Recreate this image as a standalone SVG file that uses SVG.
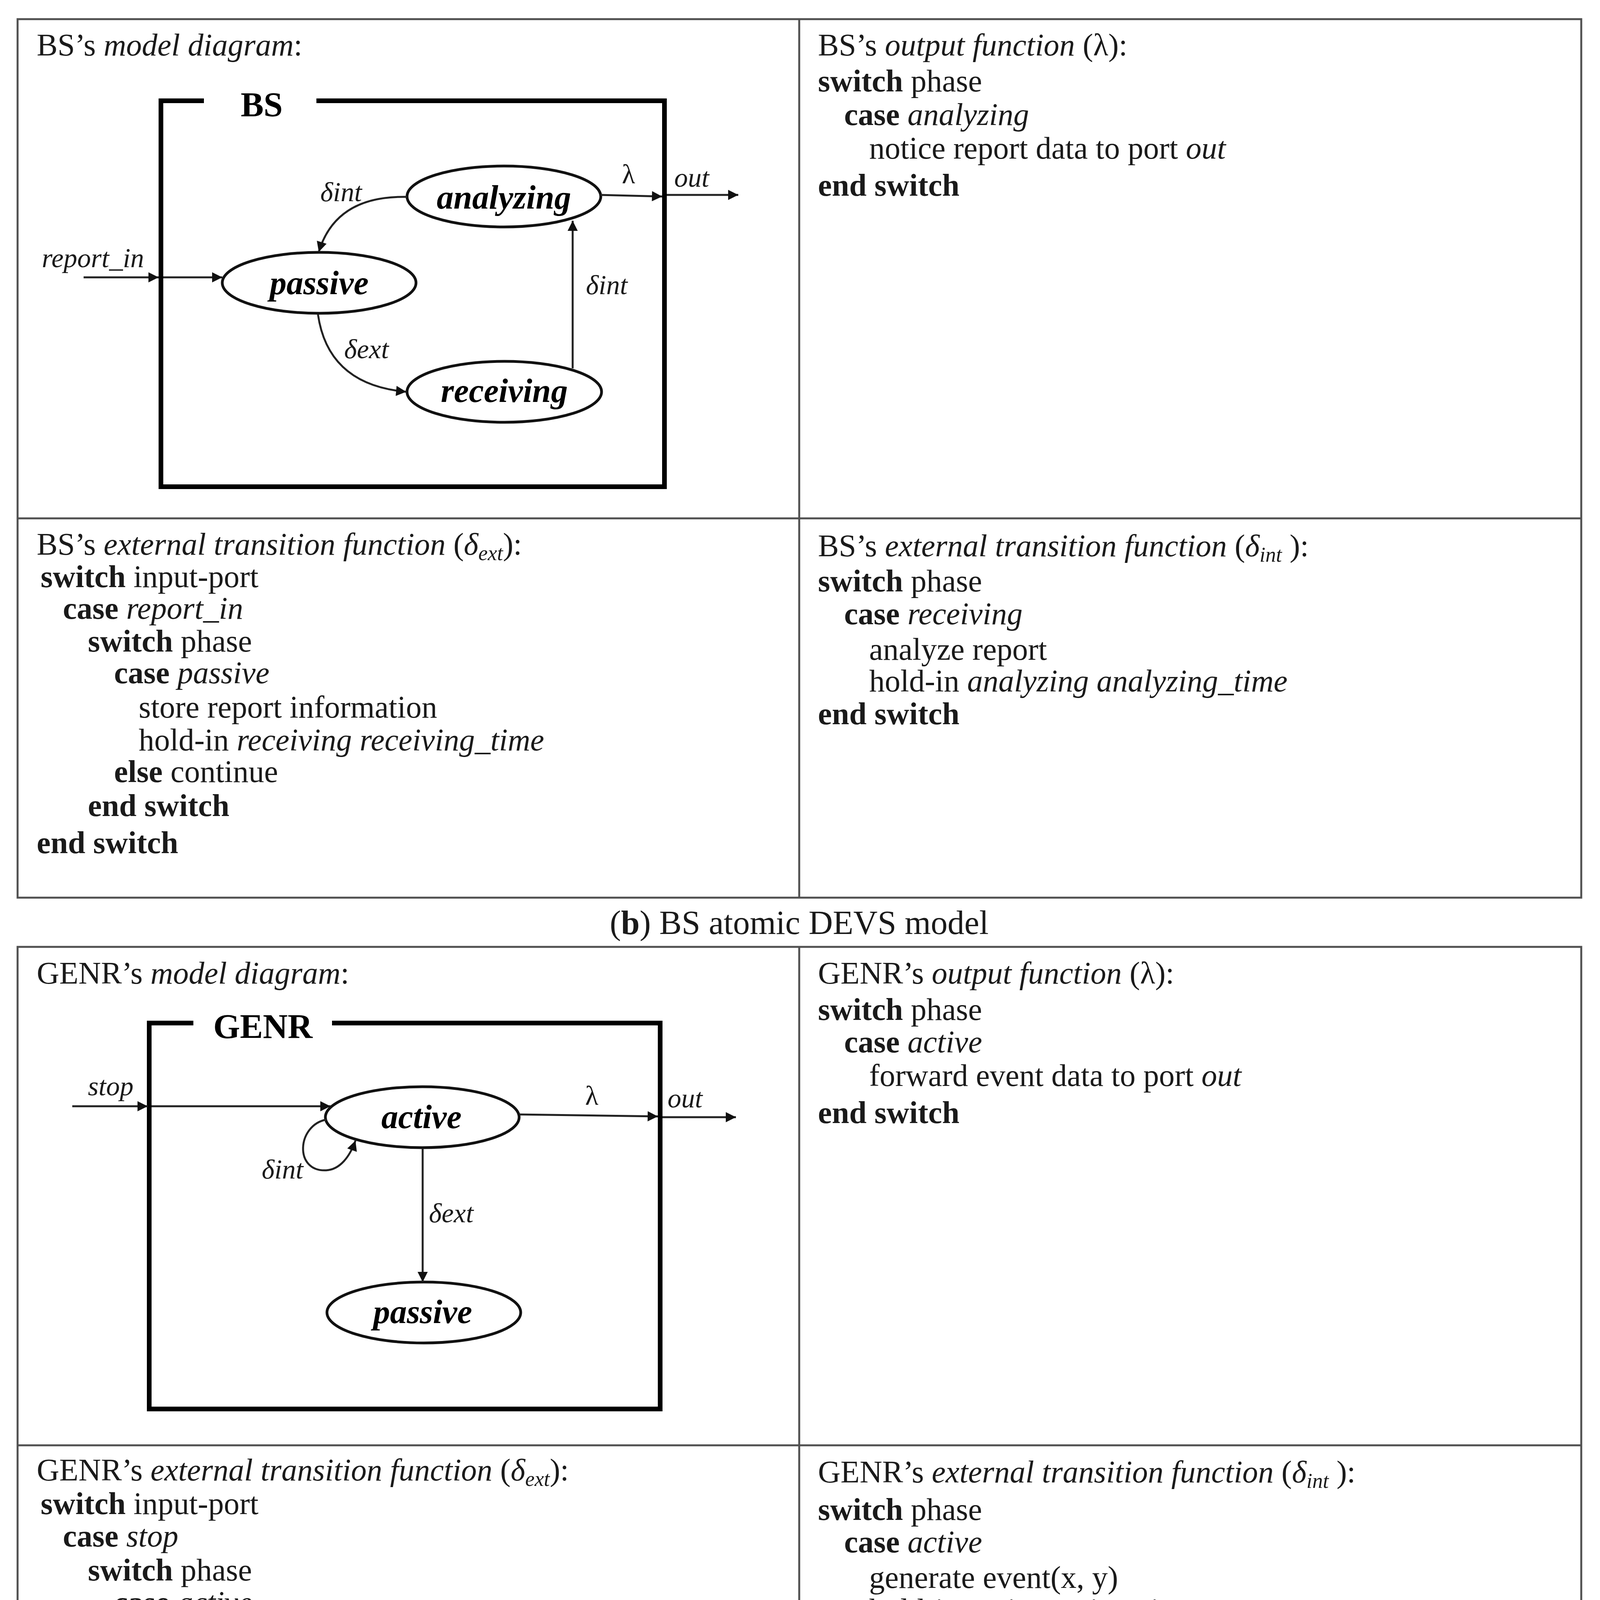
<svg xmlns="http://www.w3.org/2000/svg" width="4097" height="4833" viewBox="0 0 4097 4833">
<style>
.t{font-family:"Liberation Serif",serif;font-size:80px;fill:#1a1a1a}
.b{font-weight:bold}
.i{font-style:italic}
.sub{font-size:54px;font-style:italic}
.cap{font-family:"Liberation Serif",serif;font-size:86px;fill:#1a1a1a;text-anchor:middle}
.lbl{font-family:"Liberation Serif",serif;font-size:70px;font-style:italic;fill:#1a1a1a}
.lam{font-family:"Liberation Serif",serif;font-size:70px;fill:#1a1a1a}
.st{font-family:"Liberation Serif",serif;font-size:86px;font-weight:bold;font-style:italic;fill:#000;text-anchor:middle}
.mname{font-family:"Liberation Serif",serif;font-size:88px;font-weight:bold;fill:#000;text-anchor:middle}
.cell{fill:none;stroke:#505050;stroke-width:5}
.box{fill:none;stroke:#000;stroke-width:12;stroke-linejoin:miter}
.node{fill:#fff;stroke:#111;stroke-width:7}
.edge{fill:none;stroke:#222;stroke-width:5}
</style>
<defs>
<marker id="ah" viewBox="0 0 10 10" refX="10" refY="5" markerWidth="36" markerHeight="26" markerUnits="userSpaceOnUse" orient="auto">
<path d="M0,0 L10,5 L0,10 z" fill="#111"/>
</marker>
</defs>
<rect width="4097" height="4833" fill="#fff"/>

<!-- BS table -->
<g id="bs-table">
<rect class="cell" x="45" y="49" width="4003" height="2249"/>
<line class="cell" x1="45" y1="1327" x2="4048" y2="1327"/>
<line class="cell" x1="2046" y1="49" x2="2046" y2="2298"/>
</g>

<!-- BS model diagram cell -->
<g id="bs-diagram-title">
<text class="t" x="94" y="142">BS’s <tspan class="i">model diagram</tspan>:</text>
</g>
<g id="bs-box">
<path class="box" d="M522,258 L412,258 L412,1246 L1701,1246 L1701,258 L810,258"/>
<text class="mname" x="670" y="297">BS</text>
</g>
<g id="bs-analyzing">
<ellipse class="node" cx="1290" cy="503" rx="248" ry="78"/>
<text class="st" x="1290" y="534">analyzing</text>
</g>
<g id="bs-passive">
<ellipse class="node" cx="817" cy="724" rx="248" ry="78"/>
<text class="st" x="817" y="753">passive</text>
</g>
<g id="bs-receiving">
<ellipse class="node" cx="1291" cy="1003" rx="249" ry="78"/>
<text class="st" x="1291" y="1029">receiving</text>
</g>
<g id="bs-connectors">
<line class="edge" x1="214" y1="710" x2="406" y2="710" marker-end="url(#ah)"/>
<line class="edge" x1="418" y1="710" x2="569" y2="710" marker-end="url(#ah)"/>
<line class="edge" x1="1537" y1="499" x2="1695" y2="503" marker-end="url(#ah)"/>
<line class="edge" x1="1707" y1="499" x2="1890" y2="499" marker-end="url(#ah)"/>
<path class="edge" d="M1042,504 Q860,500 816,645" marker-end="url(#ah)"/>
<path class="edge" d="M814,805 Q840,985 1040,1003" marker-end="url(#ah)"/>
<line class="edge" x1="1466" y1="943" x2="1466" y2="565" marker-end="url(#ah)"/>
<text class="lbl" x="107" y="684">report_in</text>
<text class="lam" x="1592" y="469">λ</text>
<text class="lbl" x="1726" y="478">out</text>
<text class="lbl" x="820" y="515">δint</text>
<text class="lbl" x="881" y="917">δext</text>
<text class="lbl" x="1500" y="753">δint</text>
</g>

<!-- BS output function -->
<g id="bs-output">
<text class="t" x="2094" y="142">BS’s <tspan class="i">output function</tspan> (λ):</text>
<text class="t" x="2094" y="234"><tspan class="b">switch</tspan> phase</text>
<text class="t" x="2161" y="320"><tspan class="b">case</tspan> <tspan class="i">analyzing</tspan></text>
<text class="t" x="2225" y="406">notice report data to port <tspan class="i">out</tspan></text>
<text class="t b" x="2094" y="501">end switch</text>
</g>

<!-- BS external transition -->
<g id="bs-ext">
<text class="t" x="94" y="1420">BS’s <tspan class="i">external transition function</tspan> (<tspan class="i">δ</tspan><tspan class="sub" dy="14">ext</tspan><tspan dy="-14">):</tspan></text>
<text class="t" x="104" y="1503"><tspan class="b">switch</tspan> input-port</text>
<text class="t" x="161" y="1584"><tspan class="b">case</tspan> <tspan class="i">report_in</tspan></text>
<text class="t" x="225" y="1668"><tspan class="b">switch</tspan> phase</text>
<text class="t" x="292" y="1749"><tspan class="b">case</tspan> <tspan class="i">passive</tspan></text>
<text class="t" x="355" y="1837">store report information</text>
<text class="t" x="355" y="1921">hold-in <tspan class="i">receiving receiving_time</tspan></text>
<text class="t" x="292" y="2002"><tspan class="b">else</tspan> continue</text>
<text class="t b" x="225" y="2089">end switch</text>
<text class="t b" x="94" y="2184">end switch</text>
</g>

<!-- BS internal transition -->
<g id="bs-int">
<text class="t" x="2094" y="1424">BS’s <tspan class="i">external transition function</tspan> (<tspan class="i">δ</tspan><tspan class="sub" dy="14">int</tspan><tspan dy="-14"> ):</tspan></text>
<text class="t" x="2094" y="1514"><tspan class="b">switch</tspan> phase</text>
<text class="t" x="2161" y="1598"><tspan class="b">case</tspan> <tspan class="i">receiving</tspan></text>
<text class="t" x="2225" y="1689">analyze report</text>
<text class="t" x="2225" y="1770">hold-in <tspan class="i">analyzing analyzing_time</tspan></text>
<text class="t b" x="2094" y="1854">end switch</text>
</g>

<g id="caption-b">
<text class="cap" x="2046" y="2391">(<tspan font-weight="bold">b</tspan>) BS atomic DEVS model</text>
</g>

<!-- GENR table -->
<g id="genr-table">
<rect class="cell" x="45" y="2424" width="4003" height="2250"/>
<line class="cell" x1="45" y1="3700" x2="4048" y2="3700"/>
<line class="cell" x1="2046" y1="2424" x2="2046" y2="4674"/>
</g>

<g id="genr-diagram-title">
<text class="t" x="94" y="2518">GENR’s <tspan class="i">model diagram</tspan>:</text>
</g>
<g id="genr-box">
<path class="box" d="M495,2619 L382,2619 L382,3607 L1690,3607 L1690,2619 L850,2619"/>
<text class="mname" x="673" y="2657">GENR</text>
</g>
<g id="genr-active">
<ellipse class="node" cx="1081" cy="2860" rx="248" ry="78"/>
<text class="st" x="1079" y="2888">active</text>
</g>
<g id="genr-passive">
<ellipse class="node" cx="1085" cy="3360" rx="248" ry="78"/>
<text class="st" x="1082" y="3387">passive</text>
</g>
<g id="genr-connectors">
<line class="edge" x1="185" y1="2832" x2="378" y2="2832" marker-end="url(#ah)"/>
<line class="edge" x1="388" y1="2832" x2="846" y2="2832" marker-end="url(#ah)"/>
<line class="edge" x1="1330" y1="2853" x2="1684" y2="2858" marker-end="url(#ah)"/>
<line class="edge" x1="1696" y1="2860" x2="1884" y2="2860" marker-end="url(#ah)"/>
<path class="edge" d="M836,2866 C760,2880 752,3000 835,2996 C870,2994 895,2962 910,2920" marker-end="url(#ah)"/>
<line class="edge" x1="1082" y1="2940" x2="1082" y2="3282" marker-end="url(#ah)"/>
<text class="lbl" x="225" y="2804">stop</text>
<text class="lam" x="1498" y="2828">λ</text>
<text class="lbl" x="1709" y="2835">out</text>
<text class="lbl" x="670" y="3017">δint</text>
<text class="lbl" x="1098" y="3129">δext</text>
</g>

<g id="genr-output">
<text class="t" x="2094" y="2518">GENR’s <tspan class="i">output function</tspan> (λ):</text>
<text class="t" x="2094" y="2611"><tspan class="b">switch</tspan> phase</text>
<text class="t" x="2161" y="2694"><tspan class="b">case</tspan> <tspan class="i">active</tspan></text>
<text class="t" x="2225" y="2780">forward event data to port <tspan class="i">out</tspan></text>
<text class="t b" x="2094" y="2875">end switch</text>
</g>

<g id="genr-ext">
<text class="t" x="94" y="3790">GENR’s <tspan class="i">external transition function</tspan> (<tspan class="i">δ</tspan><tspan class="sub" dy="14">ext</tspan><tspan dy="-14">):</tspan></text>
<text class="t" x="104" y="3876"><tspan class="b">switch</tspan> input-port</text>
<text class="t" x="161" y="3959"><tspan class="b">case</tspan> <tspan class="i">stop</tspan></text>
<text class="t" x="225" y="4046"><tspan class="b">switch</tspan> phase</text>
<text class="t" x="292" y="4129"><tspan class="b">case</tspan> <tspan class="i">active</tspan></text>
<text class="t" x="355" y="4216">hold-in <tspan class="i">passive passive_time</tspan></text>
<text class="t" x="292" y="4299"><tspan class="b">else</tspan> continue</text>
<text class="t b" x="181" y="4382">end switch</text>
<text class="t b" x="94" y="4476">end switch</text>
</g>

<g id="genr-int">
<text class="t" x="2094" y="3795">GENR’s <tspan class="i">external transition function</tspan> (<tspan class="i">δ</tspan><tspan class="sub" dy="14">int</tspan><tspan dy="-14"> ):</tspan></text>
<text class="t" x="2094" y="3891"><tspan class="b">switch</tspan> phase</text>
<text class="t" x="2161" y="3974"><tspan class="b">case</tspan> <tspan class="i">active</tspan></text>
<text class="t" x="2225" y="4065">generate event(x, y)</text>
<text class="t" x="2225" y="4148">hold-in <tspan class="i">active active_time</tspan></text>
<text class="t b" x="2094" y="4238">end switch</text>
</g>

<g id="caption-c">
<text class="cap" x="2046" y="4764">(<tspan font-weight="bold">c</tspan>) GENR atomic DEVS model</text>
</g>
</svg>
